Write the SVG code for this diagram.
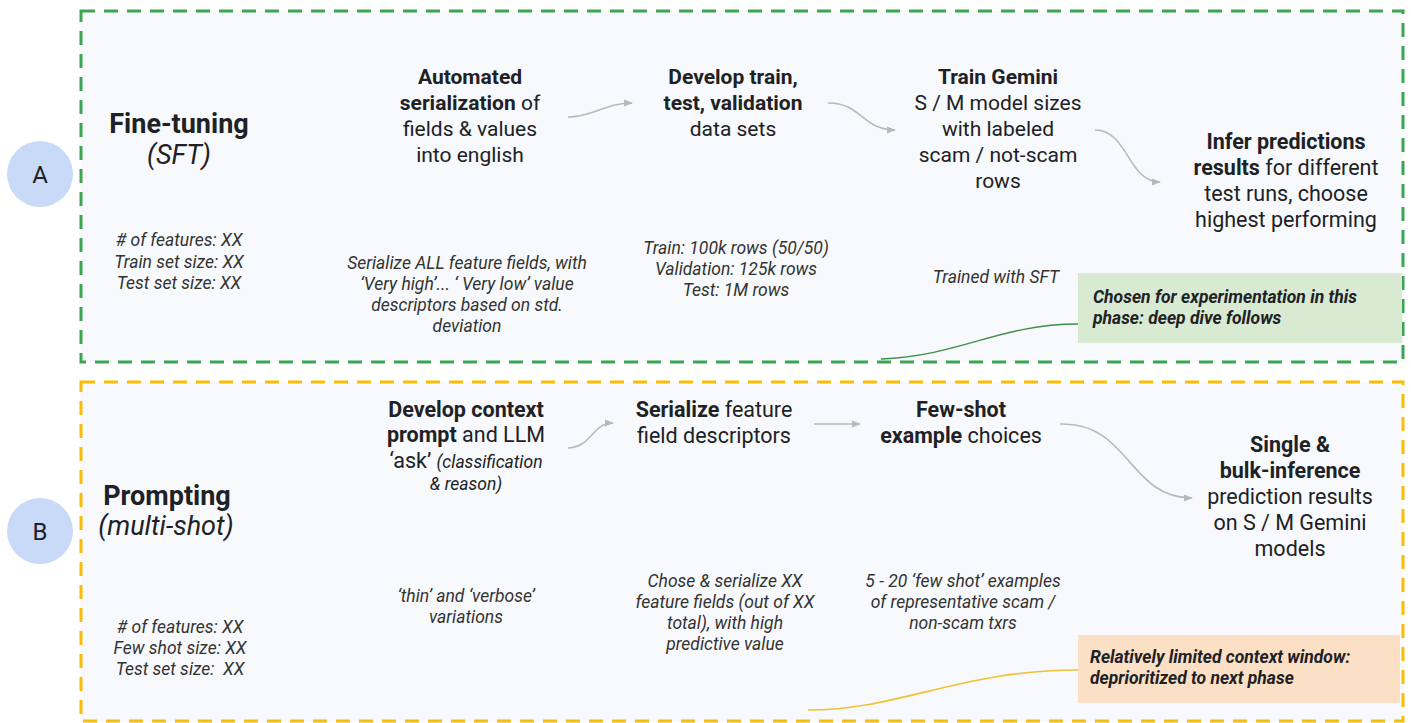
<svg xmlns="http://www.w3.org/2000/svg" width="1411" height="723" viewBox="0 0 1411 723">
<style>
text{font-family:Roboto,"Liberation Sans",sans-serif;fill:#202124}
.t{font-size:21px;text-anchor:middle}
.t2{font-size:21.5px;text-anchor:middle}
.b{font-weight:bold}
.ti{font-size:27px;text-anchor:middle}
.n{font-size:17.5px;font-style:italic;text-anchor:middle;fill:#333333}
.si{font-size:17.5px;font-style:italic}
.c{font-size:17.5px;font-style:italic;font-weight:bold}
.lab{font-size:24px;text-anchor:middle}
.arr{fill:none;stroke:#b9b9b9;stroke-width:1.6}
</style>
<defs>
<marker id="ah" markerWidth="9" markerHeight="8" refX="8" refY="4" orient="auto" markerUnits="userSpaceOnUse">
<path d="M0,0.5 L9,4 L0,7.5 Z" fill="#b9b9b9"/>
</marker>
</defs>
<rect width="1411" height="723" fill="#ffffff"/>

<g id="panelA">
<rect x="81" y="11" width="1322" height="351" fill="#f7f9fc" stroke="#3ba553" stroke-width="3" stroke-dasharray="14 9"/>
</g>
<g id="panelB">
<rect x="81" y="382" width="1322" height="339" fill="#f7f9fc" stroke="#fbbc04" stroke-width="3" stroke-dasharray="14 9"/>
</g>

<g id="circleA">
<circle cx="40" cy="174" r="33" fill="#c9daf8"/>
<text class="lab" x="40" y="183">A</text>
</g>
<g id="circleB">
<circle cx="40" cy="531" r="33" fill="#c9daf8"/>
<text class="lab" x="40" y="540">B</text>
</g>

<g id="titleA">
<text class="ti b" x="179" y="133">Fine-tuning</text>
<text class="ti" x="179" y="164" font-style="italic">(SFT)</text>
<text class="n" y="246"><tspan x="179">#&#160;of features: XX</tspan><tspan x="179" dy="21.5">Train set size: XX</tspan><tspan x="179" dy="21.5">Test set size: XX</tspan></text>
</g>

<g id="serializationA">
<text class="t" y="84"><tspan x="470" class="b">Automated</tspan><tspan x="470" dy="26"><tspan class="b">serialization</tspan> of</tspan><tspan x="470" dy="26">fields &amp; values</tspan><tspan x="470" dy="26">into english</tspan></text>
<text class="n" y="269"><tspan x="467">Serialize ALL feature fields, with</tspan><tspan x="467" dy="21">‘Very high’... ‘ Very low’ value</tspan><tspan x="467" dy="21">descriptors based on std.</tspan><tspan x="467" dy="21">deviation</tspan></text>
</g>

<g id="datasetsA">
<text class="t" y="84"><tspan x="733" class="b">Develop train,</tspan><tspan x="733" dy="26" class="b">test, validation</tspan><tspan x="733" dy="26">data sets</tspan></text>
<text class="n" y="254"><tspan x="736">Train: 100k rows (50/50)</tspan><tspan x="736" dy="21">Validation: 125k rows</tspan><tspan x="736" dy="21">Test: 1M rows</tspan></text>
</g>

<g id="trainA">
<text class="t" y="84"><tspan x="998" class="b">Train Gemini</tspan><tspan x="998" dy="26">S / M model sizes</tspan><tspan x="998" dy="26">with labeled</tspan><tspan x="998" dy="26">scam / not-scam</tspan><tspan x="998" dy="26">rows</tspan></text>
<text class="n" x="996" y="283">Trained with SFT</text>
</g>

<g id="inferA">
<text class="t2" y="149"><tspan x="1286" class="b">Infer predictions</tspan><tspan x="1286" dy="26"><tspan class="b">results</tspan> for different</tspan><tspan x="1286" dy="26">test runs, choose</tspan><tspan x="1286" dy="26">highest performing</tspan></text>
</g>

<g id="calloutA">
<rect x="1078" y="273" width="324" height="70" fill="#d9ead3"/>
<text class="c" y="303"><tspan x="1093">Chosen for experimentation in this</tspan><tspan x="1093" dy="20.5">phase: deep dive follows</tspan></text>
</g>

<g id="titleB">
<text class="ti b" x="167" y="505">Prompting</text>
<text class="ti" x="166" y="535" font-style="italic">(multi-shot)</text>
<text class="n" y="633"><tspan x="180">#&#160;of features: XX</tspan><tspan x="180" dy="21">Few shot size: XX</tspan><tspan x="180" dy="21">Test set size:&#160; XX</tspan></text>
</g>

<g id="contextB">
<text class="t2" y="417"><tspan x="466" class="b">Develop context</tspan><tspan x="466" dy="25"><tspan class="b">prompt</tspan> and LLM</tspan><tspan x="466" dy="26">‘ask’ <tspan class="si">(classification</tspan></tspan><tspan x="466" dy="22" class="si">&amp; reason)</tspan></text>
<text class="n" y="602"><tspan x="466">‘thin’ and ‘verbose’</tspan><tspan x="466" dy="21">variations</tspan></text>
</g>

<g id="serializeB">
<text class="t2" y="417"><tspan x="714"><tspan class="b">Serialize</tspan> feature</tspan><tspan x="714" dy="26">field descriptors</tspan></text>
<text class="n" y="587"><tspan x="725">Chose &amp; serialize XX</tspan><tspan x="725" dy="21">feature fields (out of XX</tspan><tspan x="725" dy="21">total), with high</tspan><tspan x="725" dy="21">predictive value</tspan></text>
</g>

<g id="fewshotB">
<text class="t2" y="417"><tspan x="961" class="b">Few-shot</tspan><tspan x="961" dy="26"><tspan class="b">example</tspan> choices</tspan></text>
<text class="n" y="587"><tspan x="963">5 - 20 ‘few shot’ examples</tspan><tspan x="963" dy="21">of representative scam /</tspan><tspan x="963" dy="21">non-scam txrs</tspan></text>
</g>

<g id="inferB">
<text class="t2" y="452"><tspan x="1290" class="b">Single &amp;</tspan><tspan x="1290" dy="26" class="b">bulk-inference</tspan><tspan x="1290" dy="26">prediction results</tspan><tspan x="1290" dy="26">on S / M Gemini</tspan><tspan x="1290" dy="26">models</tspan></text>
</g>

<g id="calloutB">
<rect x="1078" y="635" width="322" height="68" fill="#fbe0c6"/>
<text class="c" y="663"><tspan x="1090">Relatively limited context window:</tspan><tspan x="1090" dy="21">deprioritized to next phase</tspan></text>
</g>

<g id="connectors">
<path class="arr" d="M568 117 C592 117 606 103 632 103" marker-end="url(#ah)"/>
<path class="arr" d="M828 103 C862 103 862 130 895 130" marker-end="url(#ah)"/>
<path class="arr" d="M1095 130 C1128 130 1128 182 1160 182" marker-end="url(#ah)"/>
<path class="arr" d="M568 448 C592 447 592 423 613 423" marker-end="url(#ah)"/>
<path class="arr" d="M814 424 L860 424" marker-end="url(#ah)"/>
<path class="arr" d="M1060 424 C1130 422 1128 498 1192 498" marker-end="url(#ah)"/>
<path d="M881 359 C960 356 1000 324 1078 324" fill="none" stroke="#3f8f4a" stroke-width="1.4"/>
<path d="M808 710 C900 710 960 670 1078 670" fill="none" stroke="#f1c232" stroke-width="1.6"/>
</g>
</svg>
